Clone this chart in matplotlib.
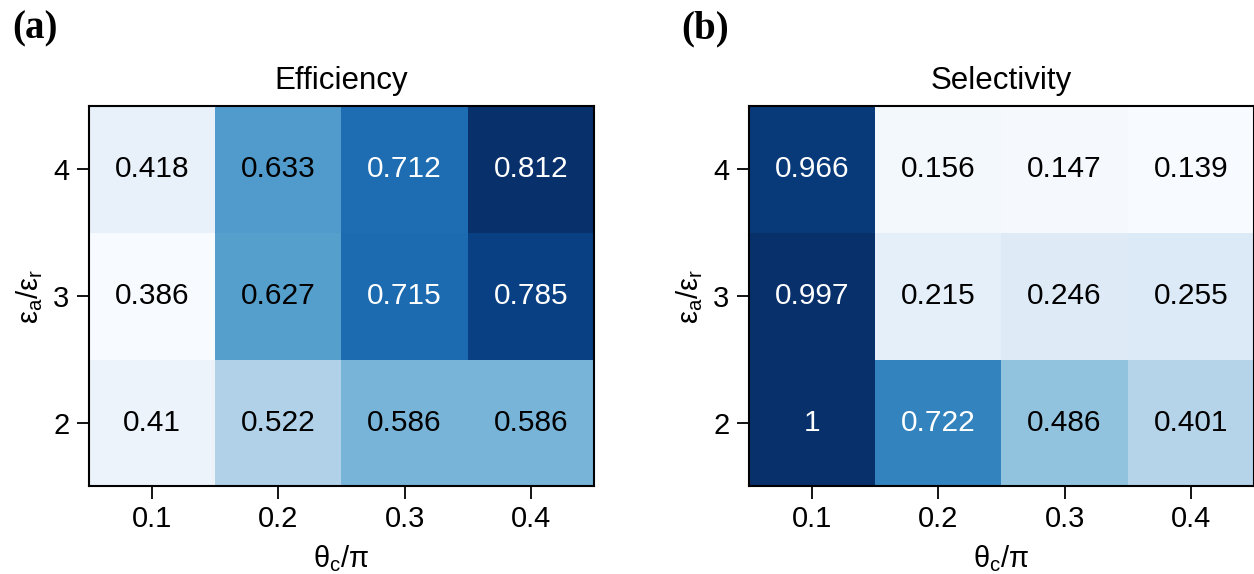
import numpy as np
import matplotlib.pyplot as plt

plt.rcParams['font.family'] = ['Liberation Sans', 'DejaVu Sans']
plt.rcParams['mathtext.fontset'] = 'custom'
plt.rcParams['mathtext.rm'] = 'Liberation Sans'
plt.rcParams['mathtext.it'] = 'Liberation Sans'

# data (rows: eps_a/eps_r = 2, 3, 4 ; cols: theta_c/pi = 0.1 .. 0.4)
theta_labels = ['0.1', '0.2', '0.3', '0.4']
eps_labels = ['2', '3', '4']
efficiency = np.array([
    [0.41, 0.522, 0.586, 0.586],
    [0.386, 0.627, 0.715, 0.785],
    [0.418, 0.633, 0.712, 0.812],
])
selectivity = np.array([
    [1.0, 0.722, 0.486, 0.401],
    [0.997, 0.215, 0.246, 0.255],
    [0.966, 0.156, 0.147, 0.139],
])
titles = ['Efficiency', 'Selectivity']
panels = ['(a)', '(b)']

W, H = 1254, 574
fig = plt.figure(figsize=(W / 100, H / 100), dpi=100)
boxes = [[89 / W, 88 / H, 505 / W, 380 / H], [749 / W, 88 / H, 505 / W, 380 / H]]
panel_x = [12 / W, 681 / W]

for k, data in enumerate([efficiency, selectivity]):
    ax = fig.add_axes(boxes[k])
    vmin, vmax = data.min(), data.max()
    ax.imshow(data, cmap='Blues', origin='lower', aspect='auto', vmin=vmin, vmax=vmax)
    for i in range(data.shape[0]):
        for j in range(data.shape[1]):
            v = data[i, j]
            txt = '1' if v == 1 else ('%g' % v)
            c = 'white' if (v - vmin) / (vmax - vmin) > 0.62 else 'black'
            ax.text(j, i, txt, ha='center', va='center', color=c, fontsize=21.5)
    ax.set_xticks(range(4))
    ax.set_xticklabels(theta_labels)
    ax.set_yticks(range(3))
    ax.set_yticklabels(eps_labels)
    ax.tick_params(labelsize=21, length=9, width=1.3, pad=5)
    for s in ax.spines.values():
        s.set_linewidth(1.5)
    ax.set_xlabel(r'$\mathrm{θ_c/π}$', fontsize=21, labelpad=7)
    ax.set_ylabel(r'$\mathrm{ε_a/ε_r}$', fontsize=21, labelpad=6)
    ax.set_title(titles[k], fontsize=22.5, pad=12)
    fig.text(panel_x[k], 1 - 10 / H, panels[k], fontsize=28, fontweight='bold',
             family='Liberation Serif', va='top', ha='left')

fig.savefig('out.png', dpi=100)
